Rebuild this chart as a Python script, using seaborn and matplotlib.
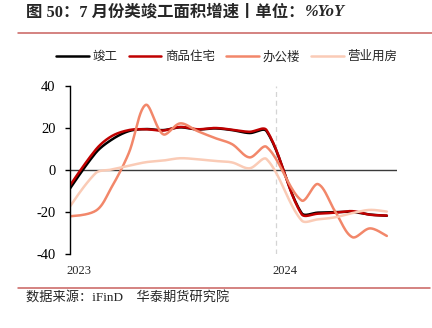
import numpy as np
import pandas as pd
import matplotlib
matplotlib.use("Agg")
import matplotlib.pyplot as plt
import matplotlib.dates as mdates
from matplotlib.lines import Line2D
import seaborn as sns

# ---------------- data ----------------
months = ["2022-12", "2023-02", "2023-03", "2023-04", "2023-05", "2023-06", "2023-07",
          "2023-08", "2023-09", "2023-10", "2023-11", "2023-12",
          "2024-02", "2024-03", "2024-04", "2024-05", "2024-06", "2024-07"]
completed = [-15.5, 8.0, 14.3, 18.5, 19.5, 19.0, 20.3, 19.3, 19.8, 19.0, 17.6, 18.5,
             -20.5, -20.3, -20.0, -20.0, -21.2, -21.8]
residential = [-14.0, 9.5, 16.0, 19.0, 19.4, 18.8, 20.5, 19.4, 20.0, 19.2, 18.2, 19.0,
               -21.0, -20.8, -20.3, -19.6, -21.3, -21.7]
office = [-22.5, -19.5, -8.5, 8.0, 31.0, 17.0, 22.2, 18.5, 15.2, 12.3, 6.0, 11.0,
          -14.5, -6.7, -20.0, -32.0, -27.8, -31.4]
commercial = [-24.0, -1.6, 0.2, 2.0, 3.7, 4.5, 5.6, 5.1, 4.3, 3.6, 0.8, 5.2,
              -24.0, -23.5, -22.5, -20.5, -19.0, -19.8]
series_names = ["竣工", "商品住宅", "办公楼", "营业用房"]
series_colors = ["#000000", "#C00000", "#F2876A", "#FACBB6"]
year_labels = ["2023", "2024"]
y_ticks = [-40, -20, 0, 20, 40]

title_main = "图 50：7 月份类竣工面积增速丨单位："
title_tail = "%YoY"
source_text = "数据来源：iFinD    华泰期货研究院"

# ---------------- style ----------------
sns.set_style("ticks")
CJK = ["Liberation Serif", "Noto Sans CJK SC", "DejaVu Sans"]
SANS = ["Noto Sans CJK SC", "DejaVu Sans"]
plt.rcParams["font.family"] = CJK
plt.rcParams["axes.unicode_minus"] = False

fig = plt.figure(figsize=(4.32, 3.28), dpi=100)
ax = fig.add_axes([70 / 432, 1 - 254 / 328, 327 / 432, 168 / 328])

# axes limits (set first so that smoothing can be done in screen space)
x0 = mdates.date2num(pd.Timestamp("2023-01-01").to_pydatetime())
x1 = mdates.date2num(pd.Timestamp("2024-08-02").to_pydatetime())
ax.set_xlim(x0, x1)
ax.set_ylim(-40, 40)

# x positions: mid-month dates on a date scale
xdates = pd.to_datetime(months) + pd.Timedelta(days=14)
xnum = mdates.date2num(xdates.to_pydatetime())


def smooth_path(xs, ys, n=24):
    """Excel-like smoothed line: cubic Bezier through every data point,
    built in screen space with segment-length weighted handles."""
    P = ax.transData.transform(np.column_stack([xs, ys]).astype(float))
    m = len(P)
    L = np.linalg.norm(np.diff(P, axis=0), axis=1)
    pts = []
    for i in range(m - 1):
        p1, p2 = P[i], P[i + 1]
        if i > 0:
            d = P[i + 1] - P[i - 1]
            c1 = p1 + d * (L[i] / (L[i - 1] + L[i])) / 3.0
        else:
            c1 = p1 + (p2 - p1) / 6.0
        if i + 2 < m:
            d = P[i + 2] - P[i]
            c2 = p2 - d * (L[i] / (L[i] + L[i + 1])) / 3.0
        else:
            c2 = p2 - (p2 - p1) / 6.0
        t = np.linspace(0, 1, n, endpoint=(i == m - 2))[:, None]
        seg = ((1 - t) ** 3) * p1 + 3 * ((1 - t) ** 2) * t * c1 + 3 * (1 - t) * t ** 2 * c2 + t ** 3 * p2
        pts.append(seg)
    pts = ax.transData.inverted().transform(np.vstack(pts))
    return pts[:, 0], pts[:, 1]


all_series = [completed, residential, office, commercial]
for name, vals, col in zip(series_names, all_series, series_colors):
    sx, sy = smooth_path(xnum, vals)
    sns.lineplot(x=sx, y=sy, sort=False, estimator=None, color=col, lw=1.8,
                 ax=ax, label=name, solid_capstyle="round")

ax.set_xlim(x0, x1)
ax.set_ylim(-40, 40)

# reference lines
ax.axhline(0, color="#3a3a3a", lw=1.0, zorder=1)
xsep = mdates.date2num(pd.Timestamp("2024-01-01").to_pydatetime())
ax.axvline(xsep, color="#d4d4d4", lw=0.9, ls=(0, (4, 3)), zorder=0.5)

# ticks
ax.set_yticks(y_ticks)
ax.set_yticklabels([str(v) for v in y_ticks])
ax.tick_params(axis="y", direction="out", length=3.5, width=1.0, pad=7,
               labelsize=10.5, colors="black")
xt = [mdates.date2num(pd.Timestamp(f"{y}-01-16").to_pydatetime()) for y in year_labels]
ax.set_xticks(xt)
ax.set_xticklabels(year_labels)
ax.tick_params(axis="x", length=0, pad=8, labelsize=9)
for lab in ax.get_xticklabels() + ax.get_yticklabels():
    lab.set_family("Liberation Serif")

for s in ["top", "right", "bottom"]:
    ax.spines[s].set_visible(False)
ax.spines["left"].set_color("black")
ax.spines["left"].set_linewidth(1.0)
ax.set_xlabel("")
ax.set_ylabel("")

# legend
ax.legend(loc="center", bbox_to_anchor=(0.525, 0.827), bbox_transform=fig.transFigure,
          ncol=4, frameon=False, prop={"family": SANS, "size": 9},
          handlelength=2.6, handletextpad=0.3, columnspacing=0.9, borderaxespad=0)

# title
t1 = fig.text(26 / 432, 1 - 12.5 / 328, title_main, fontsize=11.8, fontweight="bold",
              family=CJK, va="center", ha="left")
fig.canvas.draw()
bb = t1.get_window_extent(renderer=fig.canvas.get_renderer())
fig.text(bb.x1 / fig.bbox.width, 1 - 12.5 / 328, title_tail, fontsize=11.8,
         fontweight="bold", style="italic", family=["Liberation Serif"], va="center", ha="left")

# decorative rules
fig.add_artist(Line2D([18 / 432, 1.0], [1 - 33.3 / 328] * 2, color="#C9605E", lw=1.1,
                      transform=fig.transFigure))
fig.add_artist(Line2D([18 / 432, 0.995], [1 - 287.7 / 328] * 2, color="#C9605E", lw=1.1,
                      transform=fig.transFigure))

# source
fig.text(26 / 432, 1 - 298 / 328, source_text, fontsize=9.5, family=CJK, va="center", ha="left")

fig.savefig("out.png", dpi=100)
